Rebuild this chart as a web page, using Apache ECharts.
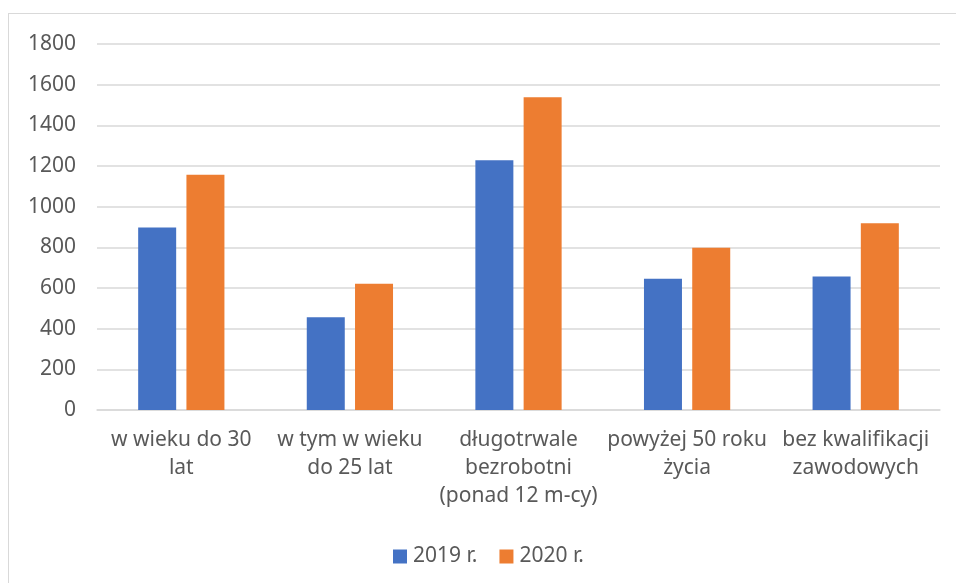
<html>
<head>
    <meta charset="UTF-8">
    <title>Bezrobotni 2019-2020</title>
    <style type="text/css">
        body{
            margin: 0;
            background: #fff;
        }
        #frame{
            position: absolute;
            left: 8px;
            top: 13px;
            width: 960px;
            height: 590px;
            border: 1px solid #d9d9d9;
        }
        #main{
            position: absolute;
            left: 0;
            top: 0;
            width: 956px;
            height: 583px;
        }
    </style>
</head>
<body>
    <div id="frame"></div>
    <div id="main"></div>
</body>
    <script src="https://cdn.jsdelivr.net/npm/echarts@6/dist/echarts.min.js"></script>
    <script type="text/javascript">
        var categories = [
            'w wieku do 30\nlat',
            'w tym w wieku\ndo 25 lat',
            'długotrwale\nbezrobotni\n(ponad 12 m-cy)',
            'powyżej 50 roku\nżycia',
            'bez kwalifikacji\nzawodowych'
        ];
        var values2019 = [898, 456, 1228, 646, 657];
        var values2020 = [1157, 621, 1538, 798, 918];
        var yTicks = [0, 200, 400, 600, 800, 1000, 1200, 1400, 1600, 1800];

        var font = 'Noto Sans';
        var textColor = '#595959';

        var option = {
            color: ['#4472c4', '#ed7d31'],
            animation: false,
            grid: {
                left: 97,
                right: 16,
                top: 44,
                bottom: 173,
                containLabel: false
            },
            legend: {
                top: 541,
                left: 388,
                itemWidth: 14,
                itemHeight: 14,
                itemGap: 22,
                icon: 'rect',
                textStyle: {
                    color: textColor,
                    fontFamily: font,
                    fontSize: 21,
                    padding: [0, 0, 0, 1]
                },
                data: ['2019 r.', '2020 r.']
            },
            xAxis: {
                type: 'category',
                data: categories,
                axisLine: { show: true, lineStyle: { color: '#d9d9d9', width: 1.5 } },
                axisTick: { show: false },
                axisLabel: {
                    color: textColor,
                    fontFamily: font,
                    fontSize: 21,
                    lineHeight: 28,
                    margin: 16,
                    interval: 0
                }
            },
            yAxis: {
                type: 'value',
                min: yTicks[0],
                max: yTicks[yTicks.length - 1],
                interval: 200,
                axisLine: { show: false },
                axisTick: { show: false },
                splitLine: { lineStyle: { color: '#d9d9d9', width: 1.5 } },
                axisLabel: {
                    color: textColor,
                    fontFamily: font,
                    fontSize: 21,
                    margin: 21,
                    formatter: function (v) { return String(v); }
                }
            },
            series: [{
                name: '2019 r.',
                type: 'bar',
                data: values2019,
                barWidth: 38,
                barGap: '27%'
            }, {
                name: '2020 r.',
                type: 'bar',
                data: values2020,
                barWidth: 38,
                barGap: '27%'
            }]
        };

        var myChart = echarts.init(document.getElementById('main'));
        myChart.setOption(option);
    </script>
</html>
